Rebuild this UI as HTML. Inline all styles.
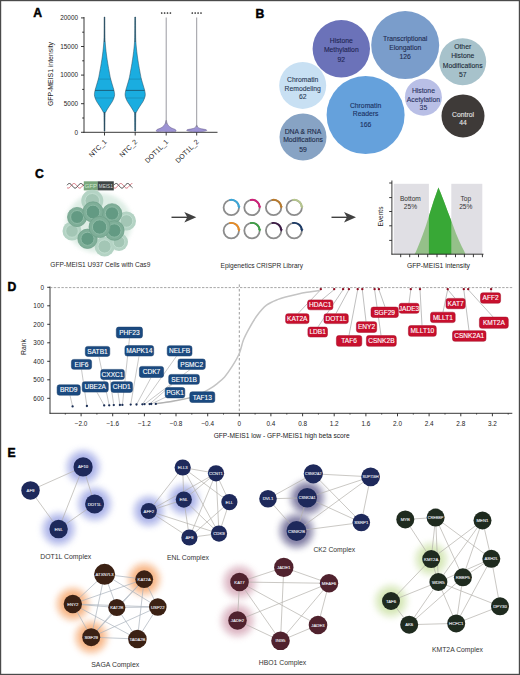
<!DOCTYPE html>
<html><head><meta charset="utf-8"><style>
html,body{margin:0;padding:0;background:#fff;}
svg{display:block;font-family:"Liberation Sans", sans-serif;}
</style></head><body>
<svg width="520" height="675" viewBox="0 0 520 675">
<rect width="520" height="675" fill="#fff"/>
<rect x="0.6" y="0.6" width="518.8" height="673.8" fill="none" stroke="#4a4a4a" stroke-width="1.2"/>
<text x="33.3" y="17.2" font-size="12.2" fill="#000" text-anchor="start" font-weight="bold" stroke="#000" stroke-width="0.45">A</text>
<g stroke="#222" stroke-width="0.9">
<line x1="84" y1="17" x2="84" y2="132.70000000000002"/>
<line x1="83.6" y1="132.3" x2="217.5" y2="132.3"/>
<line x1="81" y1="132.3" x2="84" y2="132.3"/>
<line x1="82.2" y1="118.0" x2="84" y2="118.0"/>
<line x1="81" y1="103.7" x2="84" y2="103.7"/>
<line x1="82.2" y1="89.4" x2="84" y2="89.4"/>
<line x1="81" y1="75.1" x2="84" y2="75.1"/>
<line x1="82.2" y1="60.8" x2="84" y2="60.8"/>
<line x1="81" y1="46.5" x2="84" y2="46.5"/>
<line x1="82.2" y1="32.2" x2="84" y2="32.2"/>
<line x1="81" y1="17.9" x2="84" y2="17.9"/>
<line x1="104.5" y1="132.3" x2="104.5" y2="135.5"/>
<line x1="135.2" y1="132.3" x2="135.2" y2="135.5"/>
<line x1="166.2" y1="132.3" x2="166.2" y2="135.5"/>
<line x1="196.7" y1="132.3" x2="196.7" y2="135.5"/>
</g>
<text x="78.0" y="134.6" font-size="6.4" fill="#222" text-anchor="end" font-weight="normal" >0</text>
<text x="78.0" y="106.0" font-size="6.4" fill="#222" text-anchor="end" font-weight="normal" >5000</text>
<text x="78.0" y="77.4" font-size="6.4" fill="#222" text-anchor="end" font-weight="normal" >10000</text>
<text x="78.0" y="48.8" font-size="6.4" fill="#222" text-anchor="end" font-weight="normal" >15000</text>
<text x="78.0" y="20.2" font-size="6.4" fill="#222" text-anchor="end" font-weight="normal" >20000</text>
<text x="0.0" y="0.0" font-size="7" fill="#222" text-anchor="middle" font-weight="normal" textLength="64" lengthAdjust="spacingAndGlyphs" transform="translate(52.8,74) rotate(-90)">GFP-MEIS1 intensity</text>
<text x="0.0" y="0.0" font-size="6.9" fill="#222" text-anchor="end" font-weight="normal" transform="translate(107.1,142.3) rotate(-45)">NTC_1</text>
<text x="0.0" y="0.0" font-size="6.9" fill="#222" text-anchor="end" font-weight="normal" transform="translate(137.79999999999998,142.3) rotate(-45)">NTC_2</text>
<text x="0.0" y="0.0" font-size="6.9" fill="#222" text-anchor="end" font-weight="normal" transform="translate(168.79999999999998,142.3) rotate(-45)">DOT1L_1</text>
<text x="0.0" y="0.0" font-size="6.9" fill="#222" text-anchor="end" font-weight="normal" transform="translate(199.29999999999998,142.3) rotate(-45)">DOT1L_2</text>
<path d="M104.15,17.00 C104.13,20.00 104.11,30.83 104.05,35.00 C103.99,39.17 103.92,39.83 103.80,42.00 C103.67,44.17 103.52,45.83 103.30,48.00 C103.08,50.17 102.85,52.38 102.50,55.00 C102.15,57.62 101.70,60.67 101.20,63.70 C100.70,66.73 99.98,70.63 99.50,73.20 C99.02,75.77 98.78,77.13 98.30,79.10 C97.82,81.07 97.08,83.35 96.60,85.00 C96.12,86.65 95.73,87.78 95.40,89.00 C95.08,90.22 94.82,91.38 94.65,92.30 C94.48,93.22 94.40,93.78 94.40,94.50 C94.40,95.22 94.47,95.85 94.65,96.60 C94.83,97.35 95.16,98.17 95.50,99.00 C95.84,99.83 96.23,100.77 96.70,101.60 C97.17,102.43 97.77,103.20 98.30,104.00 C98.83,104.80 99.27,105.42 99.90,106.40 C100.53,107.38 101.53,108.92 102.10,109.90 C102.67,110.88 103.00,111.62 103.30,112.30 C103.60,112.98 103.77,110.88 103.90,114.00 C104.03,117.12 104.07,128.17 104.10,131.00 L104.90,131.00 C104.93,128.17 104.97,117.12 105.10,114.00 C105.23,110.88 105.40,112.98 105.70,112.30 C106.00,111.62 106.33,110.88 106.90,109.90 C107.47,108.92 108.47,107.38 109.10,106.40 C109.73,105.42 110.17,104.80 110.70,104.00 C111.23,103.20 111.83,102.43 112.30,101.60 C112.77,100.77 113.16,99.83 113.50,99.00 C113.84,98.17 114.17,97.35 114.35,96.60 C114.53,95.85 114.60,95.22 114.60,94.50 C114.60,93.78 114.52,93.22 114.35,92.30 C114.18,91.38 113.92,90.22 113.60,89.00 C113.27,87.78 112.88,86.65 112.40,85.00 C111.92,83.35 111.18,81.07 110.70,79.10 C110.22,77.13 109.98,75.77 109.50,73.20 C109.02,70.63 108.30,66.73 107.80,63.70 C107.30,60.67 106.85,57.62 106.50,55.00 C106.15,52.38 105.92,50.17 105.70,48.00 C105.48,45.83 105.33,44.17 105.20,42.00 C105.08,39.83 105.01,39.17 104.95,35.00 C104.89,30.83 104.87,20.00 104.85,17.00 Z" fill="#1aade0" stroke="#24465a" stroke-width="0.5" stroke-linejoin="round"/>
<line x1="98.30" y1="79.1" x2="110.70" y2="79.1" stroke="#1c3140" stroke-width="0.35" stroke-opacity="0.6"/>
<line x1="95.08" y1="90.4" x2="113.92" y2="90.4" stroke="#1c3140" stroke-width="0.65" stroke-opacity="0.95"/>
<line x1="95.15" y1="98" x2="113.85" y2="98" stroke="#1c3140" stroke-width="0.35" stroke-opacity="0.6"/>
<line x1="104.5" y1="17" x2="104.5" y2="42" stroke="#2c4050" stroke-width="0.7"/>
<line x1="104.5" y1="112" x2="104.5" y2="131.5" stroke="#2c4050" stroke-width="0.8"/>
<path d="M134.85,17.00 C134.83,20.00 134.81,30.83 134.75,35.00 C134.69,39.17 134.62,39.83 134.50,42.00 C134.38,44.17 134.22,45.83 134.00,48.00 C133.78,50.17 133.55,52.38 133.20,55.00 C132.85,57.62 132.40,60.67 131.90,63.70 C131.40,66.73 130.68,70.63 130.20,73.20 C129.72,75.77 129.48,77.13 129.00,79.10 C128.52,81.07 127.78,83.35 127.30,85.00 C126.82,86.65 126.42,87.78 126.10,89.00 C125.77,90.22 125.52,91.38 125.35,92.30 C125.18,93.22 125.10,93.78 125.10,94.50 C125.10,95.22 125.17,95.85 125.35,96.60 C125.53,97.35 125.86,98.17 126.20,99.00 C126.54,99.83 126.93,100.77 127.40,101.60 C127.87,102.43 128.47,103.20 129.00,104.00 C129.53,104.80 129.97,105.42 130.60,106.40 C131.23,107.38 132.23,108.92 132.80,109.90 C133.37,110.88 133.70,111.62 134.00,112.30 C134.30,112.98 134.47,110.88 134.60,114.00 C134.73,117.12 134.77,128.17 134.80,131.00 L135.60,131.00 C135.63,128.17 135.67,117.12 135.80,114.00 C135.93,110.88 136.10,112.98 136.40,112.30 C136.70,111.62 137.03,110.88 137.60,109.90 C138.17,108.92 139.17,107.38 139.80,106.40 C140.43,105.42 140.87,104.80 141.40,104.00 C141.93,103.20 142.53,102.43 143.00,101.60 C143.47,100.77 143.86,99.83 144.20,99.00 C144.54,98.17 144.87,97.35 145.05,96.60 C145.23,95.85 145.30,95.22 145.30,94.50 C145.30,93.78 145.22,93.22 145.05,92.30 C144.88,91.38 144.62,90.22 144.30,89.00 C143.97,87.78 143.58,86.65 143.10,85.00 C142.62,83.35 141.88,81.07 141.40,79.10 C140.92,77.13 140.68,75.77 140.20,73.20 C139.72,70.63 139.00,66.73 138.50,63.70 C138.00,60.67 137.55,57.62 137.20,55.00 C136.85,52.38 136.62,50.17 136.40,48.00 C136.18,45.83 136.02,44.17 135.90,42.00 C135.77,39.83 135.71,39.17 135.65,35.00 C135.59,30.83 135.57,20.00 135.55,17.00 Z" fill="#1aade0" stroke="#24465a" stroke-width="0.5" stroke-linejoin="round"/>
<line x1="129.00" y1="79.1" x2="141.40" y2="79.1" stroke="#1c3140" stroke-width="0.35" stroke-opacity="0.6"/>
<line x1="125.78" y1="90.4" x2="144.62" y2="90.4" stroke="#1c3140" stroke-width="0.65" stroke-opacity="0.95"/>
<line x1="125.85" y1="98" x2="144.55" y2="98" stroke="#1c3140" stroke-width="0.35" stroke-opacity="0.6"/>
<line x1="135.2" y1="17" x2="135.2" y2="42" stroke="#2c4050" stroke-width="0.7"/>
<line x1="135.2" y1="112" x2="135.2" y2="131.5" stroke="#2c4050" stroke-width="0.8"/>
<path d="M165.90,120.50 C165.82,120.92 165.72,122.17 165.40,123.00 C165.08,123.83 164.70,124.70 164.00,125.50 C163.30,126.30 162.33,127.13 161.20,127.80 C160.07,128.47 158.00,129.00 157.20,129.50 C156.40,130.00 156.32,130.45 156.40,130.80 C156.48,131.15 156.15,131.40 157.70,131.60 C159.25,131.80 164.37,131.93 165.70,132.00 L166.70,132.00 C168.03,131.93 173.15,131.80 174.70,131.60 C176.25,131.40 175.92,131.15 176.00,130.80 C176.08,130.45 176.00,130.00 175.20,129.50 C174.40,129.00 172.33,128.47 171.20,127.80 C170.07,127.13 169.10,126.30 168.40,125.50 C167.70,124.70 167.32,123.83 167.00,123.00 C166.68,122.17 166.58,120.92 166.50,120.50 Z" fill="#9d93d4" stroke="#5e5480" stroke-width="0.5" stroke-linejoin="round"/>
<path d="M196.40,125.30 C196.28,125.58 196.23,126.47 195.70,127.00 C195.17,127.53 194.53,128.07 193.20,128.50 C191.87,128.93 188.75,129.25 187.70,129.60 C186.65,129.95 186.40,130.28 186.90,130.60 C187.40,130.92 189.15,131.27 190.70,131.50 C192.25,131.73 195.28,131.92 196.20,132.00 L197.20,132.00 C198.12,131.92 201.15,131.73 202.70,131.50 C204.25,131.27 206.00,130.92 206.50,130.60 C207.00,130.28 206.75,129.95 205.70,129.60 C204.65,129.25 201.53,128.93 200.20,128.50 C198.87,128.07 198.23,127.53 197.70,127.00 C197.17,126.47 197.12,125.58 197.00,125.30 Z" fill="#9d93d4" stroke="#5e5480" stroke-width="0.5" stroke-linejoin="round"/>
<line x1="166.2" y1="17.5" x2="166.2" y2="124" stroke="#8e8e96" stroke-width="0.9"/>
<line x1="196.7" y1="17.5" x2="196.7" y2="127" stroke="#8e8e96" stroke-width="0.9"/>
<circle cx="161.7" cy="13" r="0.85" fill="#222"/>
<circle cx="164.6" cy="13" r="0.85" fill="#222"/>
<circle cx="167.5" cy="13" r="0.85" fill="#222"/>
<circle cx="170.4" cy="13" r="0.85" fill="#222"/>
<circle cx="192.3" cy="13" r="0.85" fill="#222"/>
<circle cx="195.2" cy="13" r="0.85" fill="#222"/>
<circle cx="198.1" cy="13" r="0.85" fill="#222"/>
<circle cx="201.0" cy="13" r="0.85" fill="#222"/>
<text x="255.6" y="17.8" font-size="12.2" fill="#000" text-anchor="start" font-weight="bold" stroke="#000" stroke-width="0.45">B</text>
<circle cx="341.3" cy="48.8" r="28.7" fill="#6b72b9"/>
<text x="341.3" y="42.9" font-size="6.8" fill="#1e2452" text-anchor="middle" font-weight="normal" stroke="#1e2452" stroke-width="0.1">Histone</text>
<text x="341.3" y="51.6" font-size="6.8" fill="#1e2452" text-anchor="middle" font-weight="normal" stroke="#1e2452" stroke-width="0.1">Methylation</text>
<text x="341.3" y="61.9" font-size="6.8" fill="#1e2452" text-anchor="middle" font-weight="normal" stroke="#1e2452" stroke-width="0.1">92</text>
<circle cx="405.2" cy="45.1" r="34" fill="#7a9dcb"/>
<text x="405.2" y="40.9" font-size="6.8" fill="#1e2a50" text-anchor="middle" font-weight="normal" stroke="#1e2a50" stroke-width="0.1">Transcriptional</text>
<text x="405.2" y="50.2" font-size="6.8" fill="#1e2a50" text-anchor="middle" font-weight="normal" stroke="#1e2a50" stroke-width="0.1">Elongation</text>
<text x="405.2" y="58.6" font-size="6.8" fill="#1e2a50" text-anchor="middle" font-weight="normal" stroke="#1e2a50" stroke-width="0.1">126</text>
<circle cx="462.7" cy="61.7" r="23.5" fill="#a7c2cb"/>
<text x="462.7" y="49.2" font-size="6.8" fill="#1c2a38" text-anchor="middle" font-weight="normal" stroke="#1c2a38" stroke-width="0.1">Other</text>
<text x="462.7" y="57.6" font-size="6.8" fill="#1c2a38" text-anchor="middle" font-weight="normal" stroke="#1c2a38" stroke-width="0.1">Histone</text>
<text x="462.7" y="67.7" font-size="6.8" fill="#1c2a38" text-anchor="middle" font-weight="normal" stroke="#1c2a38" stroke-width="0.1">Modifications</text>
<text x="462.7" y="76.5" font-size="6.8" fill="#1c2a38" text-anchor="middle" font-weight="normal" stroke="#1c2a38" stroke-width="0.1">57</text>
<circle cx="302.7" cy="85.4" r="23.5" fill="#c8e0f3"/>
<text x="302.7" y="82.3" font-size="6.8" fill="#2a3a55" text-anchor="middle" font-weight="normal" stroke="#2a3a55" stroke-width="0.1">Chromatin</text>
<text x="302.7" y="90.8" font-size="6.8" fill="#2a3a55" text-anchor="middle" font-weight="normal" stroke="#2a3a55" stroke-width="0.1">Remodeling</text>
<text x="302.7" y="98.9" font-size="6.8" fill="#2a3a55" text-anchor="middle" font-weight="normal" stroke="#2a3a55" stroke-width="0.1">62</text>
<circle cx="303" cy="137" r="23.5" fill="#87a3c4"/>
<text x="303.0" y="133.6" font-size="6.8" fill="#1c2a48" text-anchor="middle" font-weight="normal" stroke="#1c2a48" stroke-width="0.1">DNA &amp; RNA</text>
<text x="303.0" y="142.1" font-size="6.8" fill="#1c2a48" text-anchor="middle" font-weight="normal" stroke="#1c2a48" stroke-width="0.1">Modifications</text>
<text x="303.0" y="151.5" font-size="6.8" fill="#1c2a48" text-anchor="middle" font-weight="normal" stroke="#1c2a48" stroke-width="0.1">59</text>
<circle cx="365.6" cy="115.1" r="39" fill="#65a1dc"/>
<text x="365.6" y="107.6" font-size="6.8" fill="#1a2f5e" text-anchor="middle" font-weight="normal" stroke="#1a2f5e" stroke-width="0.1">Chromatin</text>
<text x="365.6" y="115.9" font-size="6.8" fill="#1a2f5e" text-anchor="middle" font-weight="normal" stroke="#1a2f5e" stroke-width="0.1">Readers</text>
<text x="365.6" y="127.0" font-size="6.8" fill="#1a2f5e" text-anchor="middle" font-weight="normal" stroke="#1a2f5e" stroke-width="0.1">166</text>
<circle cx="423.4" cy="97.2" r="18.5" fill="#b9bfe6"/>
<text x="423.4" y="93.0" font-size="6.8" fill="#28305e" text-anchor="middle" font-weight="normal" stroke="#28305e" stroke-width="0.1">Histone</text>
<text x="423.4" y="102.0" font-size="6.8" fill="#28305e" text-anchor="middle" font-weight="normal" stroke="#28305e" stroke-width="0.1">Acetylation</text>
<text x="423.4" y="109.8" font-size="6.8" fill="#28305e" text-anchor="middle" font-weight="normal" stroke="#28305e" stroke-width="0.1">35</text>
<circle cx="463" cy="115.9" r="21.5" fill="#3e3a38"/>
<text x="463.0" y="117.0" font-size="6.8" fill="#e6e6e6" text-anchor="middle" font-weight="normal" stroke="#e6e6e6" stroke-width="0.1">Control</text>
<text x="463.0" y="124.8" font-size="6.8" fill="#e6e6e6" text-anchor="middle" font-weight="normal" stroke="#e6e6e6" stroke-width="0.1">44</text>
<text x="35.0" y="177.6" font-size="12.2" fill="#000" text-anchor="start" font-weight="bold" stroke="#000" stroke-width="0.45">C</text>
<path d="M67.00,187.60 L67.33,187.83 L67.67,187.99 L68.00,188.08 L68.33,188.10 L68.67,188.03 L69.00,187.90 L69.33,187.69 L69.67,187.43 L70.00,187.10 L70.33,186.74 L70.67,186.34 L71.00,185.93 L71.33,185.51 L71.67,185.10 L72.00,184.72 L72.33,184.37 L72.67,184.07 L73.00,183.82 L73.33,183.64 L73.67,183.53 L74.00,183.50 L74.33,183.54 L74.67,183.66 L75.00,183.85 L75.33,184.10 L75.67,184.41 L76.00,184.77 L76.33,185.16 L76.67,185.57 L77.00,185.98 L77.33,186.40 L77.67,186.79 L78.00,187.15 L78.33,187.46 L78.67,187.72 L79.00,187.92 L79.33,188.05 L79.67,188.10 L80.00,188.07 L80.33,187.98 L80.67,187.80 L81.00,187.57 L81.33,187.27 L81.67,186.93 L82.00,186.54 L82.33,186.14 L82.67,185.72 L83.00,185.30 L83.33,184.91 L83.67,184.54 L84.00,184.21" fill="none" stroke="#c64352" stroke-width="0.75"/>
<path d="M67.00,185.18 L67.33,184.79 L67.67,184.43 L68.00,184.12 L68.33,183.86 L68.67,183.67 L69.00,183.55 L69.33,183.50 L69.67,183.53 L70.00,183.63 L70.33,183.81 L70.67,184.05 L71.00,184.35 L71.33,184.69 L71.67,185.08 L72.00,185.48 L72.33,185.90 L72.67,186.32 L73.00,186.71 L73.33,187.08 L73.67,187.41 L74.00,187.68 L74.33,187.89 L74.67,188.03 L75.00,188.09 L75.33,188.09 L75.67,188.00 L76.00,187.84 L76.33,187.62 L76.67,187.33 L77.00,187.00 L77.33,186.62 L77.67,186.22 L78.00,185.80 L78.33,185.39 L78.67,184.98 L79.00,184.61 L79.33,184.27 L79.67,183.99 L80.00,183.76 L80.33,183.60 L80.67,183.52 L81.00,183.51 L81.33,183.57 L81.67,183.71 L82.00,183.92 L82.33,184.19 L82.67,184.51 L83.00,184.88 L83.33,185.28 L83.67,185.69 L84.00,186.11" fill="none" stroke="#333" stroke-width="0.95"/>
<path d="M113.80,187.60 L114.14,187.83 L114.47,188.00 L114.81,188.08 L115.15,188.10 L115.48,188.03 L115.82,187.89 L116.15,187.68 L116.49,187.40 L116.83,187.08 L117.16,186.70 L117.50,186.30 L117.84,185.88 L118.17,185.46 L118.51,185.05 L118.85,184.67 L119.18,184.32 L119.52,184.02 L119.85,183.79 L120.19,183.62 L120.53,183.52 L120.86,183.50 L121.20,183.56 L121.54,183.69 L121.87,183.90 L122.21,184.17 L122.55,184.49 L122.88,184.86 L123.22,185.26 L123.55,185.68 L123.89,186.10 L124.23,186.51 L124.56,186.90 L124.90,187.25 L125.24,187.55 L125.57,187.79 L125.91,187.97 L126.25,188.07 L126.58,188.10 L126.92,188.05 L127.25,187.92 L127.59,187.72 L127.93,187.46 L128.26,187.14 L128.60,186.78 L128.94,186.38 L129.27,185.96 L129.61,185.54 L129.95,185.13 L130.28,184.74 L130.62,184.38 L130.95,184.08 L131.29,183.83 L131.63,183.64 L131.96,183.53 L132.30,183.50" fill="none" stroke="#c64352" stroke-width="0.75"/>
<path d="M113.80,185.18 L114.14,184.79 L114.47,184.43 L114.81,184.11 L115.15,183.86 L115.48,183.66 L115.82,183.54 L116.15,183.50 L116.49,183.53 L116.83,183.64 L117.16,183.83 L117.50,184.07 L117.84,184.38 L118.17,184.74 L118.51,185.13 L118.85,185.54 L119.18,185.96 L119.52,186.38 L119.85,186.78 L120.19,187.14 L120.53,187.46 L120.86,187.72 L121.20,187.92 L121.54,188.05 L121.87,188.10 L122.21,188.07 L122.55,187.97 L122.88,187.79 L123.22,187.55 L123.55,187.25 L123.89,186.90 L124.23,186.51 L124.56,186.10 L124.90,185.68 L125.24,185.26 L125.57,184.86 L125.91,184.49 L126.25,184.17 L126.58,183.90 L126.92,183.70 L127.25,183.56 L127.59,183.50 L127.93,183.52 L128.26,183.62 L128.60,183.79 L128.94,184.02 L129.27,184.32 L129.61,184.67 L129.95,185.05 L130.28,185.46 L130.62,185.88 L130.95,186.30 L131.29,186.70 L131.63,187.07 L131.96,187.40 L132.30,187.68" fill="none" stroke="#333" stroke-width="0.95"/>
<rect x="83.8" y="181.3" width="14" height="9.1" fill="#78a67b"/>
<rect x="97.7" y="181.3" width="16.1" height="9.1" fill="#3d4545"/>
<text x="90.8" y="188.3" font-size="6.2" fill="#cfe8cf" text-anchor="middle" font-weight="normal" >GFP</text>
<text x="105.8" y="188.1" font-size="5.2" fill="#d8dcdc" text-anchor="middle" font-weight="normal" textLength="14" lengthAdjust="spacingAndGlyphs" >MEIS1</text>
<defs><filter id="cblur" x="-30%" y="-30%" width="160%" height="160%"><feGaussianBlur stdDeviation="2.2"/></filter>
<filter id="sblur" x="-20%" y="-20%" width="140%" height="140%"><feGaussianBlur stdDeviation="0.45"/></filter>
<filter id="glow" x="-100%" y="-100%" width="300%" height="300%"><feGaussianBlur stdDeviation="3.4"/></filter><filter id="glow2" x="-100%" y="-100%" width="300%" height="300%"><feGaussianBlur stdDeviation="1.2"/></filter></defs>
<g filter="url(#sblur)">
<ellipse cx="99" cy="223" rx="33" ry="30" fill="#d6e9df" filter="url(#cblur)" opacity="0.8"/>
<circle cx="92.3" cy="200.8" r="11" fill="#b4d3c4"/>
<circle cx="92.3" cy="200.8" r="7.3" fill="#a3c6b5" stroke="#c3dfd1" stroke-width="0.9"/>
<circle cx="126.5" cy="221" r="9.5" fill="#b4d3c4"/>
<circle cx="126.5" cy="221" r="6.3" fill="#a3c6b5" stroke="#c3dfd1" stroke-width="0.9"/>
<circle cx="72" cy="231" r="9.5" fill="#b4d3c4"/>
<circle cx="72" cy="231" r="6.3" fill="#a3c6b5" stroke="#c3dfd1" stroke-width="0.9"/>
<circle cx="104.6" cy="246.5" r="10" fill="#b4d3c4"/>
<circle cx="104.6" cy="246.5" r="6.6" fill="#a3c6b5" stroke="#c3dfd1" stroke-width="0.9"/>
<circle cx="119" cy="242" r="9" fill="#b4d3c4"/>
<circle cx="119" cy="242" r="5.9" fill="#a3c6b5" stroke="#c3dfd1" stroke-width="0.9"/>
<circle cx="77.1" cy="217" r="9.6" fill="#7fae98" stroke="#6c9d87" stroke-width="0.7"/>
<circle cx="77.1" cy="217" r="6.5" fill="#649a83" stroke="#8fbca7" stroke-width="1.0"/>
<circle cx="112" cy="213.5" r="9.8" fill="#7fae98" stroke="#6c9d87" stroke-width="0.7"/>
<circle cx="112" cy="213.5" r="6.7" fill="#649a83" stroke="#8fbca7" stroke-width="1.0"/>
<circle cx="93" cy="212" r="10.2" fill="#7fae98" stroke="#6c9d87" stroke-width="0.7"/>
<circle cx="93" cy="212" r="6.9" fill="#649a83" stroke="#8fbca7" stroke-width="1.0"/>
<circle cx="114.3" cy="230.5" r="9.8" fill="#7fae98" stroke="#6c9d87" stroke-width="0.7"/>
<circle cx="114.3" cy="230.5" r="6.7" fill="#649a83" stroke="#8fbca7" stroke-width="1.0"/>
<circle cx="87.5" cy="238.8" r="9.7" fill="#7fae98" stroke="#6c9d87" stroke-width="0.7"/>
<circle cx="87.5" cy="238.8" r="6.6" fill="#649a83" stroke="#8fbca7" stroke-width="1.0"/>
<circle cx="99.6" cy="227" r="10.6" fill="#7fae98" stroke="#6c9d87" stroke-width="0.7"/>
<circle cx="99.6" cy="227" r="7.2" fill="#649a83" stroke="#8fbca7" stroke-width="1.0"/>
</g>
<text x="100.3" y="267.3" font-size="6.7" fill="#2a2a2a" text-anchor="middle" font-weight="normal" textLength="100" lengthAdjust="spacingAndGlyphs" >GFP-MEIS1 U937 Cells with Cas9</text>
<line x1="171.5" y1="217.3" x2="190.3" y2="217.3" stroke="#404040" stroke-width="1.4"/>
<path d="M196.3,217.3 L184.3,212.10000000000002 L187.3,217.3 L184.3,222.5 Z" fill="#404040"/>
<line x1="331.5" y1="217.3" x2="350" y2="217.3" stroke="#404040" stroke-width="1.4"/>
<path d="M356,217.3 L344,212.10000000000002 L347,217.3 L344,222.5 Z" fill="#404040"/>
<circle cx="231.3" cy="207.5" r="7.7" fill="none" stroke="#8c8c8c" stroke-width="1.8"/>
<path d="M229.31,200.06 A7.7,7.7 0 0 1 238.97,206.83" fill="none" stroke="#3aa6d8" stroke-width="1.9"/>
<path d="M237.37,206.23 L240.57,206.23 L238.97,208.63 Z" fill="#3aa6d8"/>
<circle cx="252.0" cy="207.5" r="7.7" fill="none" stroke="#8c8c8c" stroke-width="1.8"/>
<path d="M250.01,200.06 A7.7,7.7 0 0 1 259.67,206.83" fill="none" stroke="#cf1f78" stroke-width="1.9"/>
<path d="M258.07,206.23 L261.27,206.23 L259.67,208.63 Z" fill="#cf1f78"/>
<circle cx="273.6" cy="207.5" r="7.7" fill="none" stroke="#8c8c8c" stroke-width="1.8"/>
<path d="M271.61,200.06 A7.7,7.7 0 0 1 281.27,206.83" fill="none" stroke="#b87a2c" stroke-width="1.9"/>
<path d="M279.67,206.23 L282.87,206.23 L281.27,208.63 Z" fill="#b87a2c"/>
<circle cx="294.2" cy="207.5" r="7.7" fill="none" stroke="#8c8c8c" stroke-width="1.8"/>
<path d="M292.21,200.06 A7.7,7.7 0 0 1 301.87,206.83" fill="none" stroke="#b6c68e" stroke-width="1.9"/>
<path d="M300.27,206.23 L303.47,206.23 L301.87,208.63 Z" fill="#b6c68e"/>
<circle cx="231.3" cy="230.6" r="7.7" fill="none" stroke="#8c8c8c" stroke-width="1.8"/>
<path d="M229.31,223.16 A7.7,7.7 0 0 1 238.97,229.93" fill="none" stroke="#e98b22" stroke-width="1.9"/>
<path d="M237.37,229.33 L240.57,229.33 L238.97,231.73 Z" fill="#e98b22"/>
<circle cx="252.0" cy="230.6" r="7.7" fill="none" stroke="#8c8c8c" stroke-width="1.8"/>
<path d="M250.01,223.16 A7.7,7.7 0 0 1 259.67,229.93" fill="none" stroke="#3d9f45" stroke-width="1.9"/>
<path d="M258.07,229.33 L261.27,229.33 L259.67,231.73 Z" fill="#3d9f45"/>
<circle cx="273.6" cy="230.6" r="7.7" fill="none" stroke="#8c8c8c" stroke-width="1.8"/>
<path d="M271.61,223.16 A7.7,7.7 0 0 1 281.27,229.93" fill="none" stroke="#3c1b46" stroke-width="1.9"/>
<path d="M279.67,229.33 L282.87,229.33 L281.27,231.73 Z" fill="#3c1b46"/>
<circle cx="294.2" cy="230.6" r="7.7" fill="none" stroke="#8c8c8c" stroke-width="1.8"/>
<path d="M292.21,223.16 A7.7,7.7 0 0 1 301.87,229.93" fill="none" stroke="#1b3a66" stroke-width="1.9"/>
<path d="M300.27,229.33 L303.47,229.33 L301.87,231.73 Z" fill="#1b3a66"/>
<text x="261.8" y="268.0" font-size="6.7" fill="#2a2a2a" text-anchor="middle" font-weight="normal" textLength="82.5" lengthAdjust="spacingAndGlyphs" >Epigenetics CRISPR Library</text>
<rect x="393.8" y="183.8" width="35.1" height="70.4" fill="#e0dfe4"/>
<rect x="451.3" y="183.8" width="31" height="70.4" fill="#e0dfe4"/>
<clipPath id="midclip"><rect x="428.9" y="180" width="22.4" height="80"/></clipPath>
<path d="M414.5,254.2 L415.8,252 L417.8,247.3 L420,241.8 L422.5,235.2 L425.8,226 L429,215.7 L433.9,200.2 L436.5,193 L438.4,187.4 L440.5,192.5 L444,201.5 L447.5,211 L451.2,220.4 L456.1,233.8 L459,240.5 L461.5,246 L464.2,251.3 L465.5,254.2 Z" fill="#95c089"/>
<path d="M414.5,254.2 L415.8,252 L417.8,247.3 L420,241.8 L422.5,235.2 L425.8,226 L429,215.7 L433.9,200.2 L436.5,193 L438.4,187.4 L440.5,192.5 L444,201.5 L447.5,211 L451.2,220.4 L456.1,233.8 L459,240.5 L461.5,246 L464.2,251.3 L465.5,254.2 Z" fill="#38a836" clip-path="url(#midclip)"/>
<g stroke="#222" stroke-width="0.9">
<line x1="391.9" y1="180.5" x2="391.9" y2="254.6"/>
<line x1="391.5" y1="254.2" x2="483.5" y2="254.2"/>
<line x1="389.2" y1="183" x2="391.9" y2="183"/>
<line x1="389.2" y1="197.6" x2="391.9" y2="197.6"/>
<line x1="389.2" y1="211.5" x2="391.9" y2="211.5"/>
<line x1="389.2" y1="225.8" x2="391.9" y2="225.8"/>
<line x1="389.2" y1="240.4" x2="391.9" y2="240.4"/>
<line x1="400.7" y1="254.2" x2="400.7" y2="257.2"/>
<line x1="409.7" y1="254.2" x2="409.7" y2="257.2"/>
<line x1="418.5" y1="254.2" x2="418.5" y2="257.2"/>
<line x1="427.7" y1="254.2" x2="427.7" y2="257.2"/>
<line x1="437" y1="254.2" x2="437" y2="257.2"/>
<line x1="446.2" y1="254.2" x2="446.2" y2="257.2"/>
<line x1="455.5" y1="254.2" x2="455.5" y2="257.2"/>
<line x1="464.4" y1="254.2" x2="464.4" y2="257.2"/>
<line x1="473.4" y1="254.2" x2="473.4" y2="257.2"/>
<line x1="482.4" y1="254.2" x2="482.4" y2="257.2"/>
</g>
<text x="410.4" y="201.0" font-size="6.6" fill="#333" text-anchor="middle" font-weight="normal" >Bottom</text>
<text x="410.4" y="208.8" font-size="6.6" fill="#333" text-anchor="middle" font-weight="normal" >25%</text>
<text x="465.8" y="201.0" font-size="6.6" fill="#333" text-anchor="middle" font-weight="normal" >Top</text>
<text x="465.8" y="208.8" font-size="6.6" fill="#333" text-anchor="middle" font-weight="normal" >25%</text>
<text x="0.0" y="0.0" font-size="6.8" fill="#222" text-anchor="middle" font-weight="normal" textLength="20" lengthAdjust="spacingAndGlyphs" transform="translate(382.9,216.6) rotate(-90)">Events</text>
<text x="438.5" y="268.3" font-size="6.9" fill="#222" text-anchor="middle" font-weight="normal" textLength="63" lengthAdjust="spacingAndGlyphs" >GFP-MEIS1 intensity</text>
<text x="7.6" y="290.8" font-size="12.2" fill="#000" text-anchor="start" font-weight="bold" stroke="#000" stroke-width="0.45">D</text>
<g stroke="#222" stroke-width="0.9">
<line x1="50" y1="286.5" x2="50" y2="413.7"/>
<line x1="49.6" y1="413.3" x2="512.3" y2="413.3"/>
<line x1="47.2" y1="287.3" x2="50" y2="287.3"/>
<line x1="47.2" y1="305.8" x2="50" y2="305.8"/>
<line x1="47.2" y1="324.3" x2="50" y2="324.3"/>
<line x1="47.2" y1="342.8" x2="50" y2="342.8"/>
<line x1="47.2" y1="361.3" x2="50" y2="361.3"/>
<line x1="47.2" y1="379.8" x2="50" y2="379.8"/>
<line x1="47.2" y1="398.3" x2="50" y2="398.3"/>
<line x1="65.3" y1="413.3" x2="65.3" y2="414.5"/>
<line x1="81.1" y1="413.3" x2="81.1" y2="416.3"/>
<line x1="96.9" y1="413.3" x2="96.9" y2="414.5"/>
<line x1="112.7" y1="413.3" x2="112.7" y2="416.3"/>
<line x1="128.6" y1="413.3" x2="128.6" y2="414.5"/>
<line x1="144.4" y1="413.3" x2="144.4" y2="416.3"/>
<line x1="160.2" y1="413.3" x2="160.2" y2="414.5"/>
<line x1="176.0" y1="413.3" x2="176.0" y2="416.3"/>
<line x1="191.8" y1="413.3" x2="191.8" y2="414.5"/>
<line x1="207.7" y1="413.3" x2="207.7" y2="416.3"/>
<line x1="223.5" y1="413.3" x2="223.5" y2="414.5"/>
<line x1="239.3" y1="413.3" x2="239.3" y2="416.3"/>
<line x1="255.1" y1="413.3" x2="255.1" y2="414.5"/>
<line x1="270.9" y1="413.3" x2="270.9" y2="416.3"/>
<line x1="286.8" y1="413.3" x2="286.8" y2="414.5"/>
<line x1="302.6" y1="413.3" x2="302.6" y2="416.3"/>
<line x1="318.4" y1="413.3" x2="318.4" y2="414.5"/>
<line x1="334.2" y1="413.3" x2="334.2" y2="416.3"/>
<line x1="350.0" y1="413.3" x2="350.0" y2="414.5"/>
<line x1="365.9" y1="413.3" x2="365.9" y2="416.3"/>
<line x1="381.7" y1="413.3" x2="381.7" y2="414.5"/>
<line x1="397.5" y1="413.3" x2="397.5" y2="416.3"/>
<line x1="413.3" y1="413.3" x2="413.3" y2="414.5"/>
<line x1="429.1" y1="413.3" x2="429.1" y2="416.3"/>
<line x1="445.0" y1="413.3" x2="445.0" y2="414.5"/>
<line x1="460.8" y1="413.3" x2="460.8" y2="416.3"/>
<line x1="476.6" y1="413.3" x2="476.6" y2="414.5"/>
<line x1="492.4" y1="413.3" x2="492.4" y2="416.3"/>
<line x1="508.2" y1="413.3" x2="508.2" y2="414.5"/>
</g>
<text x="44.0" y="289.6" font-size="6.4" fill="#222" text-anchor="end" font-weight="normal" >0</text>
<text x="44.0" y="308.1" font-size="6.4" fill="#222" text-anchor="end" font-weight="normal" >100</text>
<text x="44.0" y="326.6" font-size="6.4" fill="#222" text-anchor="end" font-weight="normal" >200</text>
<text x="44.0" y="345.1" font-size="6.4" fill="#222" text-anchor="end" font-weight="normal" >300</text>
<text x="44.0" y="363.6" font-size="6.4" fill="#222" text-anchor="end" font-weight="normal" >400</text>
<text x="44.0" y="382.1" font-size="6.4" fill="#222" text-anchor="end" font-weight="normal" >500</text>
<text x="44.0" y="400.6" font-size="6.4" fill="#222" text-anchor="end" font-weight="normal" >600</text>
<text x="81.1" y="426.0" font-size="6.4" fill="#222" text-anchor="middle" font-weight="normal" >&#8722;2.0</text>
<text x="112.7" y="426.0" font-size="6.4" fill="#222" text-anchor="middle" font-weight="normal" >&#8722;1.6</text>
<text x="144.4" y="426.0" font-size="6.4" fill="#222" text-anchor="middle" font-weight="normal" >&#8722;1.2</text>
<text x="176.0" y="426.0" font-size="6.4" fill="#222" text-anchor="middle" font-weight="normal" >&#8722;0.8</text>
<text x="207.7" y="426.0" font-size="6.4" fill="#222" text-anchor="middle" font-weight="normal" >&#8722;0.4</text>
<text x="239.3" y="426.0" font-size="6.4" fill="#222" text-anchor="middle" font-weight="normal" >0</text>
<text x="270.9" y="426.0" font-size="6.4" fill="#222" text-anchor="middle" font-weight="normal" >0.4</text>
<text x="302.6" y="426.0" font-size="6.4" fill="#222" text-anchor="middle" font-weight="normal" >0.8</text>
<text x="334.2" y="426.0" font-size="6.4" fill="#222" text-anchor="middle" font-weight="normal" >1.2</text>
<text x="365.9" y="426.0" font-size="6.4" fill="#222" text-anchor="middle" font-weight="normal" >1.6</text>
<text x="397.5" y="426.0" font-size="6.4" fill="#222" text-anchor="middle" font-weight="normal" >2.0</text>
<text x="429.1" y="426.0" font-size="6.4" fill="#222" text-anchor="middle" font-weight="normal" >2.4</text>
<text x="460.8" y="426.0" font-size="6.4" fill="#222" text-anchor="middle" font-weight="normal" >2.8</text>
<text x="492.4" y="426.0" font-size="6.4" fill="#222" text-anchor="middle" font-weight="normal" >3.2</text>
<text x="0.0" y="0.0" font-size="6.9" fill="#222" text-anchor="middle" font-weight="normal" textLength="16" lengthAdjust="spacingAndGlyphs" transform="translate(26.4,347) rotate(-90)">Rank</text>
<text x="281.7" y="438.2" font-size="6.8" fill="#222" text-anchor="middle" font-weight="normal" textLength="136" lengthAdjust="spacingAndGlyphs" >GFP-MEIS1 low - GFP-MEIS1 high beta score</text>
<line x1="50" y1="287.6" x2="512.3" y2="287.6" stroke="#8a8a8a" stroke-width="0.75" stroke-dasharray="2.4,1.4"/>
<line x1="239.3" y1="284.4" x2="239.3" y2="413" stroke="#777" stroke-width="0.75" stroke-dasharray="2.5,2.1"/>
<path d="M156,403.6 C158.67,403.27 166.33,402.60 172,401.6 C177.67,400.60 185.00,399.03 190,397.6 C195.00,396.17 198.80,394.40 202,393 C205.20,391.60 206.72,390.73 209.2,389.2 C211.68,387.67 214.33,385.85 216.9,383.8 C219.47,381.75 222.03,379.83 224.6,376.9 C227.17,373.97 229.87,370.05 232.3,366.2 C234.73,362.35 237.33,358.20 239.2,353.8 C241.07,349.40 241.83,344.05 243.5,339.8 C245.17,335.55 246.97,332.30 249.2,328.3 C251.43,324.30 254.02,319.65 256.9,315.8 C259.78,311.95 262.97,307.93 266.5,305.2 C270.03,302.47 274.57,300.85 278.1,299.4 C281.63,297.95 284.50,297.37 287.7,296.5 C290.90,295.63 294.10,294.90 297.3,294.2 C300.50,293.50 304.02,292.80 306.9,292.3 C309.78,291.80 312.50,291.50 314.6,291.2 C316.70,290.90 318.68,290.62 319.5,290.5" fill="none" stroke="#c4c4c4" stroke-width="1.5" stroke-linejoin="round"/>
<line x1="70" y1="395.4" x2="72.6" y2="406.4" stroke="#9a9a9a" stroke-width="0.55"/>
<line x1="81.5" y1="369.5" x2="86.9" y2="406.0" stroke="#9a9a9a" stroke-width="0.55"/>
<line x1="97" y1="392.3" x2="104.2" y2="405.4" stroke="#9a9a9a" stroke-width="0.55"/>
<line x1="98.9" y1="356.6" x2="109.2" y2="405.3" stroke="#9a9a9a" stroke-width="0.55"/>
<line x1="110" y1="379.7" x2="113.8" y2="405.1" stroke="#9a9a9a" stroke-width="0.55"/>
<line x1="118" y1="392.6" x2="119.9" y2="405.0" stroke="#9a9a9a" stroke-width="0.55"/>
<line x1="129.5" y1="338.2" x2="122.4" y2="404.9" stroke="#9a9a9a" stroke-width="0.55"/>
<line x1="139" y1="356.2" x2="130.7" y2="404.6" stroke="#9a9a9a" stroke-width="0.55"/>
<line x1="151" y1="377.7" x2="136.5" y2="404.5" stroke="#9a9a9a" stroke-width="0.55"/>
<line x1="176.5" y1="356.2" x2="142.4" y2="404.3" stroke="#9a9a9a" stroke-width="0.55"/>
<line x1="190" y1="369.6" x2="144.5" y2="404.2" stroke="#9a9a9a" stroke-width="0.55"/>
<line x1="172" y1="384.5" x2="149.6" y2="404.1" stroke="#9a9a9a" stroke-width="0.55"/>
<line x1="166" y1="397" x2="151.2" y2="404.0" stroke="#9a9a9a" stroke-width="0.55"/>
<line x1="190" y1="398" x2="155.8" y2="403.9" stroke="#9a9a9a" stroke-width="0.55"/>
<line x1="298" y1="313.5" x2="320.8" y2="289.6" stroke="#8a8a8a" stroke-width="0.55"/>
<line x1="322" y1="299.7" x2="334.2" y2="289.6" stroke="#8a8a8a" stroke-width="0.55"/>
<line x1="336" y1="313.5" x2="348.9" y2="289.6" stroke="#8a8a8a" stroke-width="0.55"/>
<line x1="318" y1="326.9" x2="343.1" y2="289.6" stroke="#8a8a8a" stroke-width="0.55"/>
<line x1="349" y1="335.4" x2="357.7" y2="289.6" stroke="#8a8a8a" stroke-width="0.55"/>
<line x1="366" y1="321.5" x2="362.3" y2="289.6" stroke="#8a8a8a" stroke-width="0.55"/>
<line x1="385" y1="306.9" x2="378.9" y2="289.6" stroke="#8a8a8a" stroke-width="0.55"/>
<line x1="381" y1="335.4" x2="374.6" y2="289.6" stroke="#8a8a8a" stroke-width="0.55"/>
<line x1="409" y1="303.1" x2="410.8" y2="289.6" stroke="#8a8a8a" stroke-width="0.55"/>
<line x1="422" y1="325.4" x2="420" y2="289.6" stroke="#8a8a8a" stroke-width="0.55"/>
<line x1="443" y1="312" x2="447.7" y2="289.6" stroke="#8a8a8a" stroke-width="0.55"/>
<line x1="455" y1="298.2" x2="447.7" y2="289.6" stroke="#8a8a8a" stroke-width="0.55"/>
<line x1="469" y1="330.5" x2="463.8" y2="289.6" stroke="#8a8a8a" stroke-width="0.55"/>
<line x1="493" y1="316.9" x2="468.2" y2="289.6" stroke="#8a8a8a" stroke-width="0.55"/>
<line x1="491" y1="292.6" x2="491.1" y2="289.6" stroke="#8a8a8a" stroke-width="0.55"/>
<circle cx="72.6" cy="406.4" r="1.15" fill="#1a2e55"/>
<circle cx="86.9" cy="406.0" r="1.15" fill="#1a2e55"/>
<circle cx="104.2" cy="405.4" r="1.15" fill="#1a2e55"/>
<circle cx="109.2" cy="405.3" r="1.15" fill="#1a2e55"/>
<circle cx="113.8" cy="405.1" r="1.15" fill="#1a2e55"/>
<circle cx="119.9" cy="405.0" r="1.15" fill="#1a2e55"/>
<circle cx="122.4" cy="404.9" r="1.15" fill="#1a2e55"/>
<circle cx="130.7" cy="404.6" r="1.15" fill="#1a2e55"/>
<circle cx="136.5" cy="404.5" r="1.15" fill="#1a2e55"/>
<circle cx="142.4" cy="404.3" r="1.15" fill="#1a2e55"/>
<circle cx="144.5" cy="404.2" r="1.15" fill="#1a2e55"/>
<circle cx="149.6" cy="404.1" r="1.15" fill="#1a2e55"/>
<circle cx="151.2" cy="404.0" r="1.15" fill="#1a2e55"/>
<circle cx="155.8" cy="403.9" r="1.15" fill="#1a2e55"/>
<circle cx="320.8" cy="289.1" r="1.2" fill="#8e0c20"/>
<circle cx="334.2" cy="289.1" r="1.2" fill="#8e0c20"/>
<circle cx="343.1" cy="289.1" r="1.2" fill="#8e0c20"/>
<circle cx="348.9" cy="289.1" r="1.2" fill="#8e0c20"/>
<circle cx="357.7" cy="289.1" r="1.2" fill="#8e0c20"/>
<circle cx="362.3" cy="289.1" r="1.2" fill="#8e0c20"/>
<circle cx="374.6" cy="289.1" r="1.2" fill="#8e0c20"/>
<circle cx="378.9" cy="289.1" r="1.2" fill="#8e0c20"/>
<circle cx="410.8" cy="289.1" r="1.2" fill="#8e0c20"/>
<circle cx="420" cy="289.1" r="1.2" fill="#8e0c20"/>
<circle cx="447.7" cy="289.1" r="1.2" fill="#8e0c20"/>
<circle cx="463.8" cy="289.1" r="1.2" fill="#8e0c20"/>
<circle cx="468.2" cy="289.1" r="1.2" fill="#8e0c20"/>
<circle cx="491.1" cy="289.1" r="1.2" fill="#8e0c20"/>
<rect x="57.1" y="384.8" width="23.2" height="10.4" rx="2.3" fill="#1b4a80" stroke="#123a68" stroke-width="0.5"/>
<text x="68.7" y="392.4" font-size="6.6" fill="#fff" text-anchor="middle" font-weight="normal" stroke="#fff" stroke-width="0.12">BRD9</text>
<rect x="71.4" y="359.4" width="20.2" height="9.9" rx="2.3" fill="#1b4a80" stroke="#123a68" stroke-width="0.5"/>
<text x="81.5" y="366.8" font-size="6.6" fill="#fff" text-anchor="middle" font-weight="normal" stroke="#fff" stroke-width="0.12">EIF6</text>
<rect x="82.2" y="381.7" width="26.1" height="10.4" rx="2.3" fill="#1b4a80" stroke="#123a68" stroke-width="0.5"/>
<text x="95.2" y="389.3" font-size="6.6" fill="#fff" text-anchor="middle" font-weight="normal" stroke="#fff" stroke-width="0.12">UBE2A</text>
<rect x="85.3" y="346.4" width="24.5" height="10.0" rx="2.3" fill="#1b4a80" stroke="#123a68" stroke-width="0.5"/>
<text x="97.5" y="353.8" font-size="6.6" fill="#fff" text-anchor="middle" font-weight="normal" stroke="#fff" stroke-width="0.12">SATB1</text>
<rect x="100.7" y="369.4" width="23.7" height="10.1" rx="2.3" fill="#1b4a80" stroke="#123a68" stroke-width="0.5"/>
<text x="112.5" y="376.8" font-size="6.6" fill="#fff" text-anchor="middle" font-weight="normal" stroke="#fff" stroke-width="0.12">CXXC1</text>
<rect x="111.0" y="381.7" width="21.5" height="10.7" rx="2.3" fill="#1b4a80" stroke="#123a68" stroke-width="0.5"/>
<text x="121.8" y="389.4" font-size="6.6" fill="#fff" text-anchor="middle" font-weight="normal" stroke="#fff" stroke-width="0.12">CHD1</text>
<rect x="116.3" y="327.1" width="26.2" height="10.9" rx="2.3" fill="#1b4a80" stroke="#123a68" stroke-width="0.5"/>
<text x="129.4" y="334.9" font-size="6.6" fill="#fff" text-anchor="middle" font-weight="normal" stroke="#fff" stroke-width="0.12">PHF23</text>
<rect x="124.9" y="345.6" width="28.8" height="10.4" rx="2.3" fill="#1b4a80" stroke="#123a68" stroke-width="0.5"/>
<text x="139.3" y="353.2" font-size="6.6" fill="#fff" text-anchor="middle" font-weight="normal" stroke="#fff" stroke-width="0.12">MAPK14</text>
<rect x="139.4" y="366.4" width="24.2" height="11.1" rx="2.3" fill="#1b4a80" stroke="#123a68" stroke-width="0.5"/>
<text x="151.5" y="374.3" font-size="6.6" fill="#fff" text-anchor="middle" font-weight="normal" stroke="#fff" stroke-width="0.12">CDK7</text>
<rect x="167.2" y="345.7" width="24.8" height="10.3" rx="2.3" fill="#1b4a80" stroke="#123a68" stroke-width="0.5"/>
<text x="179.6" y="353.2" font-size="6.6" fill="#fff" text-anchor="middle" font-weight="normal" stroke="#fff" stroke-width="0.12">NELFB</text>
<rect x="178.0" y="359.0" width="27.3" height="10.4" rx="2.3" fill="#1b4a80" stroke="#123a68" stroke-width="0.5"/>
<text x="191.7" y="366.6" font-size="6.6" fill="#fff" text-anchor="middle" font-weight="normal" stroke="#fff" stroke-width="0.12">PSMC2</text>
<rect x="168.7" y="374.4" width="30.7" height="9.9" rx="2.3" fill="#1b4a80" stroke="#123a68" stroke-width="0.5"/>
<text x="184.1" y="381.8" font-size="6.6" fill="#fff" text-anchor="middle" font-weight="normal" stroke="#fff" stroke-width="0.12">SETD1B</text>
<rect x="165.2" y="387.5" width="19.6" height="10.4" rx="2.3" fill="#1b4a80" stroke="#123a68" stroke-width="0.5"/>
<text x="175.0" y="395.1" font-size="6.6" fill="#fff" text-anchor="middle" font-weight="normal" stroke="#fff" stroke-width="0.12">PGK1</text>
<rect x="189.8" y="391.8" width="25.0" height="10.7" rx="2.3" fill="#1b4a80" stroke="#123a68" stroke-width="0.5"/>
<text x="202.3" y="399.5" font-size="6.6" fill="#fff" text-anchor="middle" font-weight="normal" stroke="#fff" stroke-width="0.12">TAF13</text>
<rect x="285.6" y="313.7" width="23.4" height="9.9" rx="2.3" fill="#c8102e" stroke="#a00a24" stroke-width="0.5"/>
<text x="297.3" y="321.0" font-size="6.6" fill="#fff" text-anchor="middle" font-weight="normal" stroke="#fff" stroke-width="0.12">KAT2A</text>
<rect x="307.6" y="299.9" width="25.3" height="9.9" rx="2.3" fill="#c8102e" stroke="#a00a24" stroke-width="0.5"/>
<text x="320.2" y="307.2" font-size="6.6" fill="#fff" text-anchor="middle" font-weight="normal" stroke="#fff" stroke-width="0.12">HDAC1</text>
<rect x="324.0" y="313.7" width="24.3" height="9.9" rx="2.3" fill="#c8102e" stroke="#a00a24" stroke-width="0.5"/>
<text x="336.1" y="321.0" font-size="6.6" fill="#fff" text-anchor="middle" font-weight="normal" stroke="#fff" stroke-width="0.12">DOT1L</text>
<rect x="307.9" y="327.1" width="19.6" height="9.9" rx="2.3" fill="#c8102e" stroke="#a00a24" stroke-width="0.5"/>
<text x="317.7" y="334.4" font-size="6.6" fill="#fff" text-anchor="middle" font-weight="normal" stroke="#fff" stroke-width="0.12">LDB1</text>
<rect x="336.4" y="335.6" width="25.4" height="10.7" rx="2.3" fill="#c8102e" stroke="#a00a24" stroke-width="0.5"/>
<text x="349.1" y="343.3" font-size="6.6" fill="#fff" text-anchor="middle" font-weight="normal" stroke="#fff" stroke-width="0.12">TAF6</text>
<rect x="356.4" y="321.7" width="20.3" height="10.7" rx="2.3" fill="#c8102e" stroke="#a00a24" stroke-width="0.5"/>
<text x="366.5" y="329.4" font-size="6.6" fill="#fff" text-anchor="middle" font-weight="normal" stroke="#fff" stroke-width="0.12">ENY2</text>
<rect x="371.0" y="307.1" width="27.3" height="10.4" rx="2.3" fill="#c8102e" stroke="#a00a24" stroke-width="0.5"/>
<text x="384.6" y="314.7" font-size="6.6" fill="#fff" text-anchor="middle" font-weight="normal" stroke="#fff" stroke-width="0.12">SGF29</text>
<rect x="366.4" y="335.6" width="29.9" height="10.7" rx="2.3" fill="#c8102e" stroke="#a00a24" stroke-width="0.5"/>
<text x="381.4" y="343.3" font-size="6.6" fill="#fff" text-anchor="middle" font-weight="normal" stroke="#fff" stroke-width="0.12">CSNK2B</text>
<rect x="399.1" y="303.3" width="19.9" height="10.0" rx="2.3" fill="#c8102e" stroke="#a00a24" stroke-width="0.5"/>
<text x="409.0" y="310.7" font-size="6.6" fill="#fff" text-anchor="middle" font-weight="normal" stroke="#fff" stroke-width="0.12">JADE3</text>
<rect x="408.4" y="325.6" width="27.9" height="10.7" rx="2.3" fill="#c8102e" stroke="#a00a24" stroke-width="0.5"/>
<text x="422.4" y="333.3" font-size="6.6" fill="#fff" text-anchor="middle" font-weight="normal" stroke="#fff" stroke-width="0.12">MLLT10</text>
<rect x="430.5" y="312.2" width="24.7" height="10.4" rx="2.3" fill="#c8102e" stroke="#a00a24" stroke-width="0.5"/>
<text x="442.9" y="319.8" font-size="6.6" fill="#fff" text-anchor="middle" font-weight="normal" stroke="#fff" stroke-width="0.12">MLLT1</text>
<rect x="446.0" y="298.4" width="19.2" height="10.3" rx="2.3" fill="#c8102e" stroke="#a00a24" stroke-width="0.5"/>
<text x="455.6" y="305.9" font-size="6.6" fill="#fff" text-anchor="middle" font-weight="normal" stroke="#fff" stroke-width="0.12">KAT7</text>
<rect x="452.5" y="330.7" width="33.5" height="10.6" rx="2.3" fill="#c8102e" stroke="#a00a24" stroke-width="0.5"/>
<text x="469.2" y="338.4" font-size="6.6" fill="#fff" text-anchor="middle" font-weight="normal" stroke="#fff" stroke-width="0.12">CSNK2A1</text>
<rect x="479.4" y="317.1" width="28.9" height="11.2" rx="2.3" fill="#c8102e" stroke="#a00a24" stroke-width="0.5"/>
<text x="493.9" y="325.1" font-size="6.6" fill="#fff" text-anchor="middle" font-weight="normal" stroke="#fff" stroke-width="0.12">KMT2A</text>
<rect x="480.5" y="292.8" width="20.1" height="10.4" rx="2.3" fill="#c8102e" stroke="#a00a24" stroke-width="0.5"/>
<text x="490.6" y="300.4" font-size="6.6" fill="#fff" text-anchor="middle" font-weight="normal" stroke="#fff" stroke-width="0.12">AFF2</text>
<text x="7.6" y="457.2" font-size="12.2" fill="#000" text-anchor="start" font-weight="bold" stroke="#000" stroke-width="0.45">E</text>
<circle cx="83.1" cy="466.9" r="16.6" fill="#b2b9ea" filter="url(#glow)" opacity="0.9"/>
<circle cx="83.1" cy="466.9" r="11.8" fill="#b2b9ea" filter="url(#glow2)"/>
<circle cx="94.6" cy="504" r="16.5" fill="#b2b9ea" filter="url(#glow)" opacity="0.9"/>
<circle cx="94.6" cy="504" r="11.7" fill="#b2b9ea" filter="url(#glow2)"/>
<circle cx="58.6" cy="529.1" r="16.2" fill="#b2b9ea" filter="url(#glow)" opacity="0.9"/>
<circle cx="58.6" cy="529.1" r="11.4" fill="#b2b9ea" filter="url(#glow2)"/>
<line x1="30.5" y1="490.4" x2="83.1" y2="466.9" stroke="#b3b0aa" stroke-width="0.7"/>
<line x1="30.5" y1="490.4" x2="58.6" y2="529.1" stroke="#b3b0aa" stroke-width="0.7"/>
<line x1="83.1" y1="466.9" x2="58.6" y2="529.1" stroke="#b3b0aa" stroke-width="0.7"/>
<line x1="83.1" y1="466.9" x2="94.6" y2="504" stroke="#b3b0aa" stroke-width="0.7"/>
<line x1="94.6" y1="504" x2="58.6" y2="529.1" stroke="#b3b0aa" stroke-width="0.7"/>
<circle cx="83.1" cy="466.9" r="9.6" fill="#1e295b"/>
<text x="83.1" y="468.4" font-size="4.3" fill="#e8eaf2" text-anchor="middle" font-weight="normal" stroke="#e8eaf2" stroke-width="0.12">AF10</text>
<circle cx="30.5" cy="490.4" r="9.25" fill="#1e295b"/>
<text x="30.5" y="491.9" font-size="4.3" fill="#e8eaf2" text-anchor="middle" font-weight="normal" stroke="#e8eaf2" stroke-width="0.12">AF9</text>
<circle cx="94.6" cy="504" r="9.5" fill="#1e295b"/>
<text x="94.6" y="505.5" font-size="4.3" fill="#e8eaf2" text-anchor="middle" font-weight="normal" stroke="#e8eaf2" stroke-width="0.12">DOT1L</text>
<circle cx="58.6" cy="529.1" r="9.25" fill="#1e295b"/>
<text x="58.6" y="530.6" font-size="4.3" fill="#e8eaf2" text-anchor="middle" font-weight="normal" stroke="#e8eaf2" stroke-width="0.12">ENL</text>
<text x="65.7" y="558.8" font-size="6.9" fill="#333" text-anchor="middle" font-weight="normal" textLength="51" lengthAdjust="spacingAndGlyphs" >DOT1L Complex</text>
<circle cx="183.8" cy="499.6" r="15.1" fill="#b2b9ea" filter="url(#glow)" opacity="0.9"/>
<circle cx="183.8" cy="499.6" r="10.3" fill="#b2b9ea" filter="url(#glow2)"/>
<circle cx="148.8" cy="511" r="15.1" fill="#b2b9ea" filter="url(#glow)" opacity="0.9"/>
<circle cx="148.8" cy="511" r="10.3" fill="#b2b9ea" filter="url(#glow2)"/>
<line x1="182.7" y1="467.5" x2="216" y2="473.3" stroke="#b3b0aa" stroke-width="0.7"/>
<line x1="182.7" y1="467.5" x2="148.8" y2="511" stroke="#b3b0aa" stroke-width="0.7"/>
<line x1="182.7" y1="467.5" x2="183.8" y2="499.6" stroke="#b3b0aa" stroke-width="0.7"/>
<line x1="182.7" y1="467.5" x2="219" y2="533.6" stroke="#b3b0aa" stroke-width="0.7"/>
<line x1="182.7" y1="467.5" x2="229.4" y2="502.1" stroke="#b3b0aa" stroke-width="0.7"/>
<line x1="216" y1="473.3" x2="183.8" y2="499.6" stroke="#b3b0aa" stroke-width="0.7"/>
<line x1="216" y1="473.3" x2="148.8" y2="511" stroke="#b3b0aa" stroke-width="0.7"/>
<line x1="216" y1="473.3" x2="229.4" y2="502.1" stroke="#b3b0aa" stroke-width="0.7"/>
<line x1="216" y1="473.3" x2="189.4" y2="537.5" stroke="#b3b0aa" stroke-width="0.7"/>
<line x1="216" y1="473.3" x2="219" y2="533.6" stroke="#b3b0aa" stroke-width="0.7"/>
<line x1="183.8" y1="499.6" x2="148.8" y2="511" stroke="#b3b0aa" stroke-width="0.7"/>
<line x1="183.8" y1="499.6" x2="189.4" y2="537.5" stroke="#b3b0aa" stroke-width="0.7"/>
<line x1="183.8" y1="499.6" x2="219" y2="533.6" stroke="#b3b0aa" stroke-width="0.7"/>
<line x1="148.8" y1="511" x2="189.4" y2="537.5" stroke="#b3b0aa" stroke-width="0.7"/>
<line x1="148.8" y1="511" x2="219" y2="533.6" stroke="#b3b0aa" stroke-width="0.7"/>
<line x1="229.4" y1="502.1" x2="189.4" y2="537.5" stroke="#b3b0aa" stroke-width="0.7"/>
<line x1="229.4" y1="502.1" x2="219" y2="533.6" stroke="#b3b0aa" stroke-width="0.7"/>
<line x1="189.4" y1="537.5" x2="219" y2="533.6" stroke="#b3b0aa" stroke-width="0.7"/>
<circle cx="182.7" cy="467.5" r="8.1" fill="#1e295b"/>
<text x="182.7" y="469.0" font-size="4.3" fill="#e8eaf2" text-anchor="middle" font-weight="normal" stroke="#e8eaf2" stroke-width="0.12">ELL3</text>
<circle cx="216" cy="473.3" r="8.1" fill="#1e295b"/>
<text x="216.0" y="474.8" font-size="4.3" fill="#e8eaf2" text-anchor="middle" font-weight="normal" textLength="13.9" lengthAdjust="spacingAndGlyphs" stroke="#e8eaf2" stroke-width="0.12">CCNT1</text>
<circle cx="183.8" cy="499.6" r="8.1" fill="#1e295b"/>
<text x="183.8" y="501.1" font-size="4.3" fill="#e8eaf2" text-anchor="middle" font-weight="normal" stroke="#e8eaf2" stroke-width="0.12">ENL</text>
<circle cx="229.4" cy="502.1" r="8.1" fill="#1e295b"/>
<text x="229.4" y="503.6" font-size="4.3" fill="#e8eaf2" text-anchor="middle" font-weight="normal" stroke="#e8eaf2" stroke-width="0.12">ELL</text>
<circle cx="148.8" cy="511" r="8.1" fill="#1e295b"/>
<text x="148.8" y="512.5" font-size="4.3" fill="#e8eaf2" text-anchor="middle" font-weight="normal" stroke="#e8eaf2" stroke-width="0.12">AFF2</text>
<circle cx="189.4" cy="537.5" r="8.1" fill="#1e295b"/>
<text x="189.4" y="539.0" font-size="4.3" fill="#e8eaf2" text-anchor="middle" font-weight="normal" stroke="#e8eaf2" stroke-width="0.12">AF9</text>
<circle cx="219" cy="533.6" r="8.1" fill="#1e295b"/>
<text x="219.0" y="535.1" font-size="4.3" fill="#e8eaf2" text-anchor="middle" font-weight="normal" stroke="#e8eaf2" stroke-width="0.12">CDK9</text>
<text x="187.9" y="559.8" font-size="6.9" fill="#333" text-anchor="middle" font-weight="normal" textLength="42" lengthAdjust="spacingAndGlyphs" >ENL Complex</text>
<circle cx="307.2" cy="497.8" r="16.8" fill="#8a87aa" filter="url(#glow)" opacity="0.9"/>
<circle cx="307.2" cy="497.8" r="12.0" fill="#8a87aa" filter="url(#glow2)"/>
<circle cx="296.5" cy="531" r="17.0" fill="#8a87aa" filter="url(#glow)" opacity="0.9"/>
<circle cx="296.5" cy="531" r="12.2" fill="#8a87aa" filter="url(#glow2)"/>
<line x1="313.3" y1="473.8" x2="370.6" y2="476.8" stroke="#b3b0aa" stroke-width="0.7"/>
<line x1="313.3" y1="473.8" x2="268" y2="498.8" stroke="#b3b0aa" stroke-width="0.7"/>
<line x1="313.3" y1="473.8" x2="361.3" y2="522.5" stroke="#b3b0aa" stroke-width="0.7"/>
<line x1="268" y1="498.8" x2="307.2" y2="497.8" stroke="#b3b0aa" stroke-width="0.7"/>
<line x1="268" y1="498.8" x2="296.5" y2="531" stroke="#b3b0aa" stroke-width="0.7"/>
<line x1="307.2" y1="497.8" x2="370.6" y2="476.8" stroke="#b3b0aa" stroke-width="0.7"/>
<line x1="307.2" y1="497.8" x2="361.3" y2="522.5" stroke="#b3b0aa" stroke-width="0.7"/>
<line x1="307.2" y1="497.8" x2="296.5" y2="531" stroke="#b3b0aa" stroke-width="0.7"/>
<line x1="296.5" y1="531" x2="370.6" y2="476.8" stroke="#b3b0aa" stroke-width="0.7"/>
<line x1="296.5" y1="531" x2="361.3" y2="522.5" stroke="#b3b0aa" stroke-width="0.7"/>
<line x1="370.6" y1="476.8" x2="361.3" y2="522.5" stroke="#b3b0aa" stroke-width="0.7"/>
<circle cx="313.3" cy="473.8" r="9.6" fill="#1e295b"/>
<text x="313.3" y="475.3" font-size="4.3" fill="#e8eaf2" text-anchor="middle" font-weight="normal" textLength="16.5" lengthAdjust="spacingAndGlyphs" stroke="#e8eaf2" stroke-width="0.12">CSNK2A2</text>
<circle cx="370.6" cy="476.8" r="9.4" fill="#1e295b"/>
<text x="370.6" y="478.3" font-size="4.3" fill="#e8eaf2" text-anchor="middle" font-weight="normal" textLength="16.2" lengthAdjust="spacingAndGlyphs" stroke="#e8eaf2" stroke-width="0.12">SUPT16H</text>
<circle cx="268" cy="498.8" r="8.8" fill="#1e295b"/>
<text x="268.0" y="500.3" font-size="4.3" fill="#e8eaf2" text-anchor="middle" font-weight="normal" stroke="#e8eaf2" stroke-width="0.12">DVL1</text>
<circle cx="307.2" cy="497.8" r="9.8" fill="#1e295b"/>
<text x="307.2" y="499.3" font-size="4.3" fill="#e8eaf2" text-anchor="middle" font-weight="normal" textLength="16.9" lengthAdjust="spacingAndGlyphs" stroke="#e8eaf2" stroke-width="0.12">CSNK2A1</text>
<circle cx="361.3" cy="522.5" r="8.8" fill="#1e295b"/>
<text x="361.3" y="524.0" font-size="4.3" fill="#e8eaf2" text-anchor="middle" font-weight="normal" stroke="#e8eaf2" stroke-width="0.12">SSRP1</text>
<circle cx="296.5" cy="531" r="10" fill="#1e295b"/>
<text x="296.5" y="532.5" font-size="4.3" fill="#e8eaf2" text-anchor="middle" font-weight="normal" textLength="17.2" lengthAdjust="spacingAndGlyphs" stroke="#e8eaf2" stroke-width="0.12">CSNK2B</text>
<text x="334.3" y="551.6" font-size="6.9" fill="#333" text-anchor="middle" font-weight="normal" textLength="41.7" lengthAdjust="spacingAndGlyphs" >CK2 Complex</text>
<circle cx="431.2" cy="559.1" r="16.0" fill="#d9e9bd" filter="url(#glow)" opacity="0.9"/>
<circle cx="431.2" cy="559.1" r="11.2" fill="#d9e9bd" filter="url(#glow2)"/>
<circle cx="391" cy="601" r="16.0" fill="#d9e9bd" filter="url(#glow)" opacity="0.9"/>
<circle cx="391" cy="601" r="11.2" fill="#d9e9bd" filter="url(#glow2)"/>
<line x1="405.3" y1="519.4" x2="435.6" y2="517.6" stroke="#b3b0aa" stroke-width="0.7"/>
<line x1="405.3" y1="519.4" x2="431.2" y2="559.1" stroke="#b3b0aa" stroke-width="0.7"/>
<line x1="435.6" y1="517.6" x2="431.2" y2="559.1" stroke="#b3b0aa" stroke-width="0.7"/>
<line x1="435.6" y1="517.6" x2="438.4" y2="582" stroke="#b3b0aa" stroke-width="0.7"/>
<line x1="435.6" y1="517.6" x2="462.9" y2="577.3" stroke="#b3b0aa" stroke-width="0.7"/>
<line x1="435.6" y1="517.6" x2="491.3" y2="558.8" stroke="#b3b0aa" stroke-width="0.7"/>
<line x1="482.5" y1="520.5" x2="431.2" y2="559.1" stroke="#b3b0aa" stroke-width="0.7"/>
<line x1="482.5" y1="520.5" x2="438.4" y2="582" stroke="#b3b0aa" stroke-width="0.7"/>
<line x1="482.5" y1="520.5" x2="462.9" y2="577.3" stroke="#b3b0aa" stroke-width="0.7"/>
<line x1="482.5" y1="520.5" x2="491.3" y2="558.8" stroke="#b3b0aa" stroke-width="0.7"/>
<line x1="431.2" y1="559.1" x2="391" y2="601" stroke="#b3b0aa" stroke-width="0.7"/>
<line x1="431.2" y1="559.1" x2="438.4" y2="582" stroke="#b3b0aa" stroke-width="0.7"/>
<line x1="491.3" y1="558.8" x2="462.9" y2="577.3" stroke="#b3b0aa" stroke-width="0.7"/>
<line x1="491.3" y1="558.8" x2="438.4" y2="582" stroke="#b3b0aa" stroke-width="0.7"/>
<line x1="491.3" y1="558.8" x2="500" y2="606.3" stroke="#b3b0aa" stroke-width="0.7"/>
<line x1="491.3" y1="558.8" x2="456.2" y2="623.4" stroke="#b3b0aa" stroke-width="0.7"/>
<line x1="438.4" y1="582" x2="391" y2="601" stroke="#b3b0aa" stroke-width="0.7"/>
<line x1="438.4" y1="582" x2="409.2" y2="624.7" stroke="#b3b0aa" stroke-width="0.7"/>
<line x1="438.4" y1="582" x2="456.2" y2="623.4" stroke="#b3b0aa" stroke-width="0.7"/>
<line x1="438.4" y1="582" x2="500" y2="606.3" stroke="#b3b0aa" stroke-width="0.7"/>
<line x1="462.9" y1="577.3" x2="409.2" y2="624.7" stroke="#b3b0aa" stroke-width="0.7"/>
<line x1="462.9" y1="577.3" x2="456.2" y2="623.4" stroke="#b3b0aa" stroke-width="0.7"/>
<line x1="391" y1="601" x2="409.2" y2="624.7" stroke="#b3b0aa" stroke-width="0.7"/>
<line x1="409.2" y1="624.7" x2="456.2" y2="623.4" stroke="#b3b0aa" stroke-width="0.7"/>
<line x1="456.2" y1="623.4" x2="500" y2="606.3" stroke="#b3b0aa" stroke-width="0.7"/>
<circle cx="405.3" cy="519.4" r="9" fill="#1f2b1f"/>
<text x="405.3" y="520.9" font-size="4.3" fill="#e8eaf2" text-anchor="middle" font-weight="normal" stroke="#e8eaf2" stroke-width="0.12">MYB</text>
<circle cx="435.6" cy="517.6" r="9" fill="#1f2b1f"/>
<text x="435.6" y="519.1" font-size="4.3" fill="#e8eaf2" text-anchor="middle" font-weight="normal" textLength="15.5" lengthAdjust="spacingAndGlyphs" stroke="#e8eaf2" stroke-width="0.12">CREBBP</text>
<circle cx="482.5" cy="520.5" r="9" fill="#1f2b1f"/>
<text x="482.5" y="522.0" font-size="4.3" fill="#e8eaf2" text-anchor="middle" font-weight="normal" stroke="#e8eaf2" stroke-width="0.12">MEN1</text>
<circle cx="431.2" cy="559.1" r="9" fill="#1f2b1f"/>
<text x="431.2" y="560.6" font-size="4.3" fill="#e8eaf2" text-anchor="middle" font-weight="normal" stroke="#e8eaf2" stroke-width="0.12">KMT2A</text>
<circle cx="491.3" cy="558.8" r="9" fill="#1f2b1f"/>
<text x="491.3" y="560.3" font-size="4.3" fill="#e8eaf2" text-anchor="middle" font-weight="normal" stroke="#e8eaf2" stroke-width="0.12">ASH2L</text>
<circle cx="438.4" cy="582" r="9" fill="#1f2b1f"/>
<text x="438.4" y="583.5" font-size="4.3" fill="#e8eaf2" text-anchor="middle" font-weight="normal" stroke="#e8eaf2" stroke-width="0.12">WDR5</text>
<circle cx="462.9" cy="577.3" r="9" fill="#1f2b1f"/>
<text x="462.9" y="578.8" font-size="4.3" fill="#e8eaf2" text-anchor="middle" font-weight="normal" stroke="#e8eaf2" stroke-width="0.12">RBBP5</text>
<circle cx="391" cy="601" r="9" fill="#1f2b1f"/>
<text x="391.0" y="602.5" font-size="4.3" fill="#e8eaf2" text-anchor="middle" font-weight="normal" stroke="#e8eaf2" stroke-width="0.12">TAF6</text>
<circle cx="500" cy="606.3" r="9" fill="#1f2b1f"/>
<text x="500.0" y="607.8" font-size="4.3" fill="#e8eaf2" text-anchor="middle" font-weight="normal" stroke="#e8eaf2" stroke-width="0.12">DPY30</text>
<circle cx="409.2" cy="624.7" r="9" fill="#1f2b1f"/>
<text x="409.2" y="626.2" font-size="4.3" fill="#e8eaf2" text-anchor="middle" font-weight="normal" stroke="#e8eaf2" stroke-width="0.12">AK6</text>
<circle cx="456.2" cy="623.4" r="9" fill="#1f2b1f"/>
<text x="456.2" y="624.9" font-size="4.3" fill="#e8eaf2" text-anchor="middle" font-weight="normal" stroke="#e8eaf2" stroke-width="0.12">HCFC1</text>
<text x="457.5" y="651.7" font-size="6.9" fill="#333" text-anchor="middle" font-weight="normal" textLength="51" lengthAdjust="spacingAndGlyphs" >KMT2A Complex</text>
<circle cx="144.2" cy="579.2" r="15.9" fill="#f8bc90" filter="url(#glow)" opacity="0.9"/>
<circle cx="144.2" cy="579.2" r="11.1" fill="#f8bc90" filter="url(#glow2)"/>
<circle cx="72.8" cy="604" r="16.2" fill="#f8bc90" filter="url(#glow)" opacity="0.9"/>
<circle cx="72.8" cy="604" r="11.4" fill="#f8bc90" filter="url(#glow2)"/>
<circle cx="91.2" cy="637.2" r="16.0" fill="#f8bc90" filter="url(#glow)" opacity="0.9"/>
<circle cx="91.2" cy="637.2" r="11.2" fill="#f8bc90" filter="url(#glow2)"/>
<line x1="104.6" y1="574.3" x2="144.2" y2="579.2" stroke="#a9b2bc" stroke-width="0.7"/>
<line x1="104.6" y1="574.3" x2="72.8" y2="604" stroke="#a9b2bc" stroke-width="0.7"/>
<line x1="104.6" y1="574.3" x2="116.8" y2="607.5" stroke="#a9b2bc" stroke-width="0.7"/>
<line x1="104.6" y1="574.3" x2="157.8" y2="607" stroke="#a9b2bc" stroke-width="0.7"/>
<line x1="104.6" y1="574.3" x2="91.2" y2="637.2" stroke="#a9b2bc" stroke-width="0.7"/>
<line x1="144.2" y1="579.2" x2="72.8" y2="604" stroke="#a9b2bc" stroke-width="0.7"/>
<line x1="144.2" y1="579.2" x2="116.8" y2="607.5" stroke="#a9b2bc" stroke-width="0.7"/>
<line x1="144.2" y1="579.2" x2="157.8" y2="607" stroke="#a9b2bc" stroke-width="0.7"/>
<line x1="144.2" y1="579.2" x2="91.2" y2="637.2" stroke="#a9b2bc" stroke-width="0.7"/>
<line x1="144.2" y1="579.2" x2="137.4" y2="639" stroke="#a9b2bc" stroke-width="0.7"/>
<line x1="72.8" y1="604" x2="116.8" y2="607.5" stroke="#a9b2bc" stroke-width="0.7"/>
<line x1="72.8" y1="604" x2="157.8" y2="607" stroke="#a9b2bc" stroke-width="0.7"/>
<line x1="72.8" y1="604" x2="91.2" y2="637.2" stroke="#a9b2bc" stroke-width="0.7"/>
<line x1="72.8" y1="604" x2="137.4" y2="639" stroke="#a9b2bc" stroke-width="0.7"/>
<line x1="116.8" y1="607.5" x2="157.8" y2="607" stroke="#a9b2bc" stroke-width="0.7"/>
<line x1="116.8" y1="607.5" x2="91.2" y2="637.2" stroke="#a9b2bc" stroke-width="0.7"/>
<line x1="116.8" y1="607.5" x2="137.4" y2="639" stroke="#a9b2bc" stroke-width="0.7"/>
<line x1="157.8" y1="607" x2="91.2" y2="637.2" stroke="#a9b2bc" stroke-width="0.7"/>
<line x1="157.8" y1="607" x2="137.4" y2="639" stroke="#a9b2bc" stroke-width="0.7"/>
<line x1="91.2" y1="637.2" x2="137.4" y2="639" stroke="#a9b2bc" stroke-width="0.7"/>
<circle cx="104.6" cy="574.3" r="10.5" fill="#3b2114"/>
<text x="104.6" y="575.8" font-size="4.3" fill="#e8eaf2" text-anchor="middle" font-weight="normal" textLength="18.1" lengthAdjust="spacingAndGlyphs" stroke="#e8eaf2" stroke-width="0.12">ATXN7L3</text>
<circle cx="144.2" cy="579.2" r="8.9" fill="#3b2114"/>
<text x="144.2" y="580.7" font-size="4.3" fill="#e8eaf2" text-anchor="middle" font-weight="normal" stroke="#e8eaf2" stroke-width="0.12">KAT2A</text>
<circle cx="72.8" cy="604" r="9.2" fill="#3b2114"/>
<text x="72.8" y="605.5" font-size="4.3" fill="#e8eaf2" text-anchor="middle" font-weight="normal" stroke="#e8eaf2" stroke-width="0.12">ENY2</text>
<circle cx="116.8" cy="607.5" r="8.6" fill="#3b2114"/>
<text x="116.8" y="609.0" font-size="4.3" fill="#e8eaf2" text-anchor="middle" font-weight="normal" stroke="#e8eaf2" stroke-width="0.12">KAT2B</text>
<circle cx="157.8" cy="607" r="8.8" fill="#3b2114"/>
<text x="157.8" y="608.5" font-size="4.3" fill="#e8eaf2" text-anchor="middle" font-weight="normal" stroke="#e8eaf2" stroke-width="0.12">USP22</text>
<circle cx="91.2" cy="637.2" r="9" fill="#3b2114"/>
<text x="91.2" y="638.7" font-size="4.3" fill="#e8eaf2" text-anchor="middle" font-weight="normal" stroke="#e8eaf2" stroke-width="0.12">SGF29</text>
<circle cx="137.4" cy="639" r="9.3" fill="#3b2114"/>
<text x="137.4" y="640.5" font-size="4.3" fill="#e8eaf2" text-anchor="middle" font-weight="normal" textLength="16.0" lengthAdjust="spacingAndGlyphs" stroke="#e8eaf2" stroke-width="0.12">TADA2B</text>
<text x="115.2" y="666.7" font-size="6.9" fill="#333" text-anchor="middle" font-weight="normal" textLength="48" lengthAdjust="spacingAndGlyphs" >SAGA Complex</text>
<circle cx="239.5" cy="582" r="16.3" fill="#dfbcc8" filter="url(#glow)" opacity="0.9"/>
<circle cx="239.5" cy="582" r="11.5" fill="#dfbcc8" filter="url(#glow2)"/>
<circle cx="237.5" cy="620.5" r="16.3" fill="#dfbcc8" filter="url(#glow)" opacity="0.9"/>
<circle cx="237.5" cy="620.5" r="11.5" fill="#dfbcc8" filter="url(#glow2)"/>
<line x1="283.8" y1="567.4" x2="239.5" y2="582" stroke="#b3b0aa" stroke-width="0.7"/>
<line x1="283.8" y1="567.4" x2="329" y2="583.3" stroke="#b3b0aa" stroke-width="0.7"/>
<line x1="283.8" y1="567.4" x2="280.5" y2="640.8" stroke="#b3b0aa" stroke-width="0.7"/>
<line x1="239.5" y1="582" x2="329" y2="583.3" stroke="#b3b0aa" stroke-width="0.7"/>
<line x1="239.5" y1="582" x2="237.5" y2="620.5" stroke="#b3b0aa" stroke-width="0.7"/>
<line x1="239.5" y1="582" x2="280.5" y2="640.8" stroke="#b3b0aa" stroke-width="0.7"/>
<line x1="239.5" y1="582" x2="318" y2="625" stroke="#b3b0aa" stroke-width="0.7"/>
<line x1="329" y1="583.3" x2="237.5" y2="620.5" stroke="#b3b0aa" stroke-width="0.7"/>
<line x1="329" y1="583.3" x2="280.5" y2="640.8" stroke="#b3b0aa" stroke-width="0.7"/>
<line x1="329" y1="583.3" x2="318" y2="625" stroke="#b3b0aa" stroke-width="0.7"/>
<line x1="237.5" y1="620.5" x2="280.5" y2="640.8" stroke="#b3b0aa" stroke-width="0.7"/>
<line x1="318" y1="625" x2="280.5" y2="640.8" stroke="#b3b0aa" stroke-width="0.7"/>
<circle cx="283.8" cy="567.4" r="9.7" fill="#50222e"/>
<text x="283.8" y="568.9" font-size="4.3" fill="#e8eaf2" text-anchor="middle" font-weight="normal" stroke="#e8eaf2" stroke-width="0.12">JADE1</text>
<circle cx="239.5" cy="582" r="9.3" fill="#50222e"/>
<text x="239.5" y="583.5" font-size="4.3" fill="#e8eaf2" text-anchor="middle" font-weight="normal" stroke="#e8eaf2" stroke-width="0.12">KAT7</text>
<circle cx="329" cy="583.3" r="9.2" fill="#50222e"/>
<text x="329.0" y="584.8" font-size="4.3" fill="#e8eaf2" text-anchor="middle" font-weight="normal" stroke="#e8eaf2" stroke-width="0.12">MEAF6</text>
<circle cx="237.5" cy="620.5" r="9.3" fill="#50222e"/>
<text x="237.5" y="622.0" font-size="4.3" fill="#e8eaf2" text-anchor="middle" font-weight="normal" stroke="#e8eaf2" stroke-width="0.12">JADE2</text>
<circle cx="318" cy="625" r="9.3" fill="#50222e"/>
<text x="318.0" y="626.5" font-size="4.3" fill="#e8eaf2" text-anchor="middle" font-weight="normal" stroke="#e8eaf2" stroke-width="0.12">JADE3</text>
<circle cx="280.5" cy="640.8" r="9.3" fill="#50222e"/>
<text x="280.5" y="642.3" font-size="4.3" fill="#e8eaf2" text-anchor="middle" font-weight="normal" stroke="#e8eaf2" stroke-width="0.12">ING5</text>
<text x="282.5" y="664.8" font-size="6.9" fill="#333" text-anchor="middle" font-weight="normal" textLength="47.3" lengthAdjust="spacingAndGlyphs" >HBO1 Complex</text>
</svg>
</body></html>
